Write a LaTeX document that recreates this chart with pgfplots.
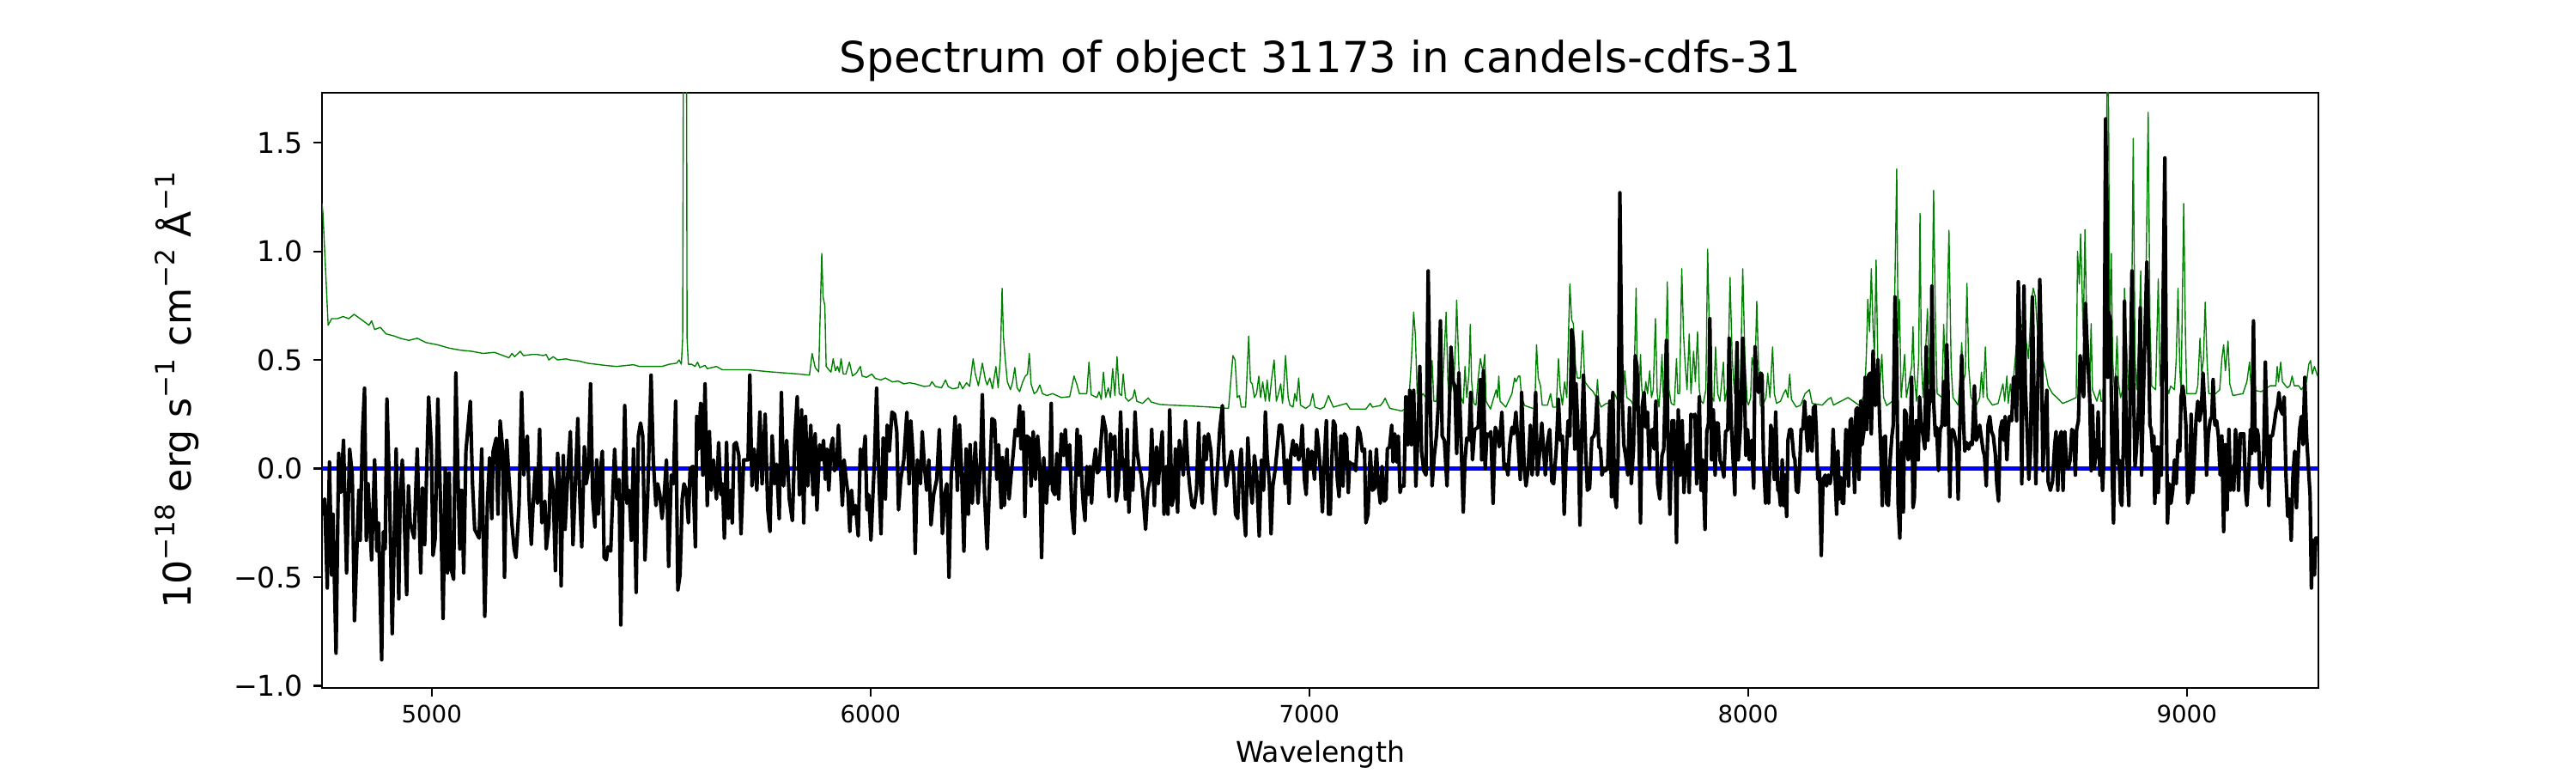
\documentclass[border=0pt]{standalone}
\usepackage{fontspec}
\setmainfont{DejaVu Sans}
\usepackage{pgfplots}
\usepackage{pgfplotstable}
\pgfplotsset{compat=1.18}
\definecolor{mplgreen}{rgb}{0,0.5,0}
\definecolor{mplblue}{rgb}{0,0,1}
\newcommand\sups[1]{\raisebox{0.42em}{\fontsize{11.2}{12}\selectfont #1}}

\pgfplotstableread{
x y
4750 1.22
4752 1.18
4764 0.66
4772 0.69
4785 0.69
4798 0.70
4811 0.69
4823 0.71
4837 0.69
4857 0.66
4863 0.68
4870 0.64
4883 0.65
4896 0.62
4915 0.61
4928 0.60
4948 0.59
4967 0.60
4987 0.58
5013 0.57
5039 0.555
5065 0.545
5091 0.54
5117 0.53
5143 0.535
5163 0.52
5176 0.51
5183 0.53
5189 0.515
5202 0.54
5209 0.52
5228 0.525
5241 0.525
5254 0.52
5261 0.525
5267 0.50
5277 0.515
5287 0.50
5306 0.505
5316 0.50
5336 0.495
5355 0.485
5395 0.475
5421 0.47
5460 0.478
5473 0.47
5525 0.47
5541 0.48
5558 0.485
5564 0.50
5569 0.48
5572 0.6
5575 3.0
5580 3.0
5582 0.6
5585 0.48
5593 0.48
5600 0.47
5606 0.49
5611 0.465
5623 0.475
5628 0.46
5649 0.47
5662 0.455
5721 0.455
5773 0.445
5838 0.435
5861 0.43
5867 0.53
5874 0.465
5882 0.445
5889 0.99
5892 0.79
5896 0.75
5899 0.47
5910 0.444
5915 0.506
5920 0.45
5925 0.47
5929 0.444
5933 0.506
5938 0.435
5944 0.435
5952 0.49
5959 0.426
5968 0.44
5977 0.47
5981 0.426
5991 0.42
6003 0.435
6011 0.415
6024 0.408
6034 0.417
6050 0.399
6063 0.403
6076 0.39
6089 0.395
6102 0.39
6122 0.378
6135 0.381
6140 0.40
6148 0.378
6162 0.372
6171 0.408
6177 0.378
6187 0.367
6200 0.372
6203 0.399
6210 0.367
6219 0.395
6226 0.378
6234 0.506
6239 0.435
6246 0.381
6255 0.485
6262 0.408
6266 0.385
6272 0.417
6278 0.367
6286 0.47
6291 0.372
6296 0.506
6300 0.83
6303 0.61
6307 0.506
6312 0.399
6319 0.363
6324 0.399
6329 0.465
6334 0.372
6340 0.354
6347 0.399
6353 0.426
6358 0.435
6362 0.53
6366 0.39
6373 0.345
6379 0.354
6386 0.385
6392 0.345
6402 0.336
6415 0.345
6435 0.327
6454 0.331
6464 0.426
6470 0.39
6476 0.345
6493 0.345
6498 0.49
6503 0.34
6516 0.327
6521 0.354
6526 0.318
6531 0.444
6536 0.327
6542 0.372
6547 0.327
6552 0.46
6557 0.336
6562 0.515
6567 0.345
6572 0.336
6576 0.435
6581 0.327
6588 0.31
6598 0.327
6602 0.363
6607 0.31
6620 0.30
6633 0.325
6640 0.306
6660 0.295
6686 0.292
6731 0.288
6777 0.283
6816 0.277
6826 0.52
6831 0.50
6836 0.327
6841 0.336
6845 0.283
6855 0.283
6862 0.61
6866 0.40
6870 0.39
6875 0.327
6880 0.345
6885 0.426
6889 0.327
6894 0.399
6900 0.31
6904 0.408
6909 0.31
6914 0.408
6920 0.50
6925 0.31
6930 0.345
6935 0.39
6939 0.30
6941 0.345
6946 0.52
6952 0.327
6956 0.292
6963 0.283
6967 0.345
6971 0.31
6976 0.417
6980 0.292
6992 0.277
7002 0.292
7008 0.345
7013 0.283
7025 0.274
7034 0.283
7044 0.336
7049 0.31
7055 0.283
7085 0.30
7093 0.274
7119 0.274
7129 0.274
7139 0.30
7144 0.283
7162 0.29
7168 0.305
7173 0.324
7178 0.30
7184 0.277
7211 0.265
7218 0.274
7227 0.31
7233 0.506
7238 0.72
7242 0.61
7246 0.345
7253 0.327
7259 0.345
7266 0.327
7272 0.345
7276 0.327
7280 0.497
7284 0.31
7290 0.31
7295 0.444
7302 0.30
7307 0.506
7312 0.72
7316 0.40
7320 0.31
7325 0.40
7329 0.363
7334 0.61
7336 0.775
7341 0.47
7346 0.327
7351 0.30
7355 0.47
7359 0.327
7364 0.435
7367 0.664
7370 0.40
7375 0.30
7380 0.292
7385 0.417
7390 0.506
7396 0.444
7400 0.525
7403 0.31
7413 0.274
7426 0.363
7429 0.327
7432 0.426
7435 0.31
7448 0.283
7462 0.345
7468 0.417
7471 0.399
7477 0.426
7480 0.426
7484 0.327
7491 0.29
7514 0.274
7518 0.57
7522 0.417
7527 0.381
7531 0.292
7543 0.292
7550 0.345
7555 0.283
7563 0.283
7568 0.506
7572 0.363
7577 0.292
7582 0.399
7587 0.327
7594 0.85
7598 0.685
7602 0.667
7607 0.47
7611 0.417
7618 0.417
7623 0.635
7628 0.40
7638 0.372
7647 0.354
7654 0.327
7657 0.41
7660 0.31
7665 0.283
7677 0.30
7690 0.30
7696 0.345
7702 0.318
7716 0.327
7719 0.45
7724 0.327
7734 0.31
7739 0.29
7745 0.83
7748 0.345
7752 0.327
7755 0.525
7758 0.363
7763 0.31
7767 0.40
7771 0.345
7776 0.45
7780 0.327
7784 0.363
7789 0.69
7793 0.345
7797 0.283
7801 0.40
7804 0.525
7807 0.327
7812 0.40
7816 0.86
7820 0.363
7825 0.30
7832 0.292
7837 0.506
7840 0.345
7844 0.345
7849 0.92
7853 0.62
7856 0.506
7861 0.363
7866 0.62
7870 0.345
7876 0.54
7880 0.40
7885 0.63
7889 0.363
7893 0.31
7898 0.30
7904 0.363
7908 1.01
7913 0.525
7918 0.327
7922 0.31
7926 0.56
7931 0.345
7936 0.31
7944 0.49
7947 0.31
7954 0.381
7959 0.88
7964 0.506
7969 0.345
7973 0.58
7977 0.345
7982 0.327
7988 0.92
7993 0.506
7998 0.31
8001 0.292
8006 0.327
8009 0.51
8016 0.45
8020 0.77
8024 0.47
8028 0.292
8032 0.283
8041 0.327
8045 0.44
8050 0.327
8056 0.56
8060 0.345
8065 0.30
8074 0.31
8081 0.345
8086 0.363
8091 0.327
8095 0.435
8099 0.318
8110 0.283
8120 0.292
8130 0.345
8140 0.363
8146 0.30
8169 0.292
8182 0.318
8189 0.327
8195 0.292
8202 0.30
8228 0.327
8254 0.29
8266 0.345
8270 0.54
8273 0.78
8277 0.63
8281 0.92
8285 0.65
8288 0.52
8292 0.96
8296 0.47
8301 0.40
8305 0.525
8309 0.327
8316 0.29
8329 0.31
8332 0.506
8339 1.38
8342 0.60
8345 0.78
8349 0.327
8357 0.525
8361 0.327
8373 0.47
8376 0.653
8379 0.435
8384 0.31
8389 0.506
8392 1.175
8395 0.506
8399 0.327
8404 0.506
8409 0.735
8413 0.39
8418 0.435
8423 1.28
8427 0.685
8431 0.345
8442 0.327
8446 0.664
8451 0.363
8453 0.63
8458 1.097
8463 0.47
8467 0.327
8479 0.292
8483 0.40
8487 0.58
8491 0.40
8495 0.435
8499 0.853
8503 0.47
8508 0.327
8521 0.292
8528 0.327
8532 0.444
8536 0.327
8541 0.56
8545 0.327
8557 0.292
8570 0.30
8581 0.39
8585 0.31
8590 0.426
8593 0.30
8598 0.39
8601 0.327
8606 0.435
8609 0.506
8614 0.61
8619 0.685
8624 0.65
8629 0.685
8633 0.60
8639 0.506
8642 0.61
8645 0.757
8650 0.83
8655 0.79
8658 0.685
8665 0.525
8671 0.506
8678 0.45
8684 0.381
8694 0.345
8704 0.327
8717 0.30
8730 0.31
8748 0.327
8751 1.0
8755 0.85
8758 1.08
8761 0.86
8764 0.61
8768 1.10
8771 0.765
8775 0.525
8779 0.40
8782 0.667
8785 0.363
8795 0.31
8802 0.363
8805 0.31
8811 0.31
8815 0.8
8817 1.22
8819 2.2
8822 1.58
8824 0.61
8828 0.99
8831 0.506
8836 0.327
8841 0.61
8844 0.399
8849 0.327
8854 0.363
8858 0.83
8862 0.61
8867 0.363
8873 0.399
8878 1.52
8882 0.506
8886 0.363
8891 0.61
8895 0.91
8898 0.506
8903 0.40
8907 0.86
8912 1.64
8916 0.685
8920 0.38
8929 0.363
8935 0.873
8939 0.38
8950 0.417
8955 0.38
8959 0.345
8963 0.38
8972 0.363
8976 0.506
8980 0.83
8984 0.47
8987 0.345
8993 1.22
8997 0.61
9000 0.345
9012 0.345
9021 0.345
9025 0.381
9030 0.60
9034 0.435
9038 0.506
9042 0.766
9046 0.506
9050 0.345
9066 0.345
9075 0.363
9080 0.506
9084 0.57
9088 0.45
9094 0.587
9098 0.39
9105 0.336
9128 0.345
9137 0.40
9143 0.49
9147 0.363
9170 0.354
9190 0.381
9203 0.381
9206 0.47
9209 0.399
9214 0.49
9218 0.399
9229 0.372
9235 0.381
9240 0.426
9245 0.381
9255 0.381
9261 0.363
9273 0.399
9278 0.48
9282 0.497
9286 0.435
9291 0.47
9298 0.426
}\noisetab

\pgfplotstableread{
x y
4750 -0.15
4752 -0.21
4756 -0.14
4762 -0.55
4767 0.03
4772 -0.49
4775 -0.21
4782 -0.85
4788 0.07
4793 -0.11
4799 0.13
4806 -0.48
4813 0.09
4819 -0.03
4824 -0.70
4834 -0.10
4837 -0.33
4842 0.15
4847 0.37
4851 -0.33
4855 -0.07
4863 -0.42
4870 0.04
4875 -0.38
4879 -0.25
4886 -0.88
4890 -0.29
4894 -0.37
4898 0.32
4904 -0.11
4910 -0.76
4919 0.09
4925 -0.60
4928 -0.14
4933 0.04
4938 -0.26
4943 -0.58
4947 -0.08
4951 -0.25
4960 -0.32
4967 0.09
4975 -0.48
4979 -0.09
4984 -0.35
4988 -0.05
4993 0.33
4999 0.11
5003 -0.40
5008 -0.32
5014 0.32
5021 -0.23
5026 -0.69
5031 0.00
5036 -0.48
5040 -0.02
5044 -0.46
5050 -0.51
5055 0.44
5060 -0.05
5064 -0.37
5068 -0.10
5073 -0.48
5078 0.08
5088 0.31
5093 -0.07
5098 -0.28
5103 -0.30
5108 -0.32
5114 0.09
5121 -0.68
5127 -0.16
5132 0.05
5137 -0.23
5140 0.08
5147 0.14
5151 -0.21
5156 0.22
5162 0.08
5166 -0.50
5171 0.13
5176 -0.04
5183 -0.26
5188 -0.37
5192 -0.41
5196 -0.28
5199 -0.17
5205 0.35
5210 -0.03
5214 0.10
5218 0.15
5222 -0.14
5227 -0.35
5231 -0.17
5236 0.00
5241 -0.16
5246 0.18
5251 -0.25
5258 -0.15
5261 -0.37
5267 -0.26
5271 0.00
5277 -0.10
5282 -0.47
5287 0.07
5292 -0.10
5295 -0.54
5300 0.06
5304 -0.28
5310 -0.03
5316 0.17
5322 -0.35
5333 0.23
5337 -0.10
5342 -0.36
5348 0.10
5352 -0.07
5357 -0.01
5362 0.39
5367 -0.14
5372 -0.27
5376 0.04
5380 -0.21
5385 0.00
5389 0.08
5393 -0.41
5398 -0.42
5402 -0.36
5408 -0.38
5413 -0.10
5417 0.09
5422 -0.14
5427 -0.05
5431 -0.72
5436 -0.12
5440 0.29
5445 -0.16
5450 -0.10
5455 -0.33
5460 0.09
5466 -0.57
5471 0.15
5476 0.21
5481 0.15
5486 -0.42
5492 -0.14
5500 0.43
5505 0.04
5511 -0.17
5515 -0.07
5520 -0.12
5525 -0.23
5530 -0.12
5535 0.04
5540 -0.45
5546 -0.03
5551 -0.07
5556 0.31
5561 -0.56
5566 -0.49
5571 -0.14
5575 -0.07
5580 -0.10
5585 -0.25
5589 0.00
5595 0.01
5601 -0.36
5604 0.24
5608 0.09
5613 0.30
5618 -0.03
5623 0.39
5628 -0.17
5633 0.17
5637 -0.10
5642 0.04
5649 -0.14
5654 0.12
5659 -0.12
5663 -0.07
5667 -0.32
5672 0.12
5676 -0.23
5681 -0.10
5685 -0.25
5689 0.11
5694 0.12
5700 0.06
5705 -0.30
5711 0.04
5715 0.04
5721 0.04
5725 0.43
5730 -0.08
5735 0.09
5741 -0.10
5748 0.26
5753 -0.07
5760 0.25
5766 -0.19
5771 -0.29
5776 0.15
5781 -0.07
5786 0.02
5792 -0.23
5797 0.35
5802 -0.08
5809 0.13
5815 -0.14
5822 -0.24
5828 0.15
5833 0.33
5838 -0.12
5843 0.27
5848 -0.25
5852 0.24
5857 -0.08
5864 0.20
5869 -0.12
5874 0.16
5878 -0.19
5884 0.11
5889 0.04
5893 0.13
5897 -0.05
5901 0.09
5905 -0.10
5910 0.10
5914 0.14
5918 -0.01
5923 0.01
5927 0.20
5933 -0.05
5936 -0.17
5940 0.04
5944 -0.04
5949 -0.12
5953 -0.29
5957 -0.10
5961 -0.21
5966 -0.17
5972 -0.31
5977 0.09
5981 0.00
5988 0.15
5992 -0.19
5996 -0.12
6001 -0.33
6006 -0.10
6009 0.03
6014 0.37
6019 -0.03
6024 -0.30
6029 0.14
6034 -0.14
6038 0.20
6043 0.08
6049 0.26
6055 0.25
6060 0.17
6064 -0.19
6069 -0.05
6076 0.04
6083 0.26
6088 -0.07
6092 0.22
6097 0.06
6102 -0.39
6107 0.04
6114 -0.07
6118 0.17
6123 0.01
6128 -0.10
6133 0.04
6138 -0.26
6144 -0.12
6151 -0.05
6157 0.18
6164 -0.30
6169 -0.12
6174 -0.07
6179 -0.50
6184 -0.03
6188 0.06
6193 0.24
6198 -0.10
6203 0.20
6208 -0.03
6213 -0.38
6218 0.09
6223 -0.21
6227 0.11
6232 -0.16
6239 0.12
6245 -0.16
6251 0.04
6255 0.34
6260 -0.12
6266 -0.37
6272 -0.03
6277 0.23
6283 0.22
6288 -0.05
6292 0.11
6298 -0.18
6301 0.05
6305 -0.17
6311 0.09
6316 -0.14
6320 -0.04
6325 0.06
6330 0.18
6335 0.15
6340 0.29
6343 0.09
6348 0.26
6352 -0.22
6356 0.15
6362 0.14
6366 -0.08
6371 0.17
6376 -0.05
6381 0.15
6386 0.01
6390 -0.41
6395 0.05
6401 -0.16
6405 -0.01
6408 -0.07
6412 0.30
6415 -0.10
6420 -0.12
6425 0.07
6429 -0.14
6435 0.16
6440 0.06
6444 0.18
6449 0.01
6454 0.11
6459 -0.19
6464 -0.30
6471 0.18
6474 -0.03
6478 0.15
6482 -0.07
6485 -0.16
6489 -0.24
6493 0.01
6497 -0.12
6500 0.01
6504 -0.16
6508 0.01
6513 0.09
6517 -0.02
6521 -0.01
6526 0.14
6530 0.24
6536 0.18
6539 0.04
6544 -0.13
6547 0.16
6552 0.09
6557 0.15
6560 -0.15
6565 -0.08
6570 0.26
6574 0.01
6578 0.04
6581 -0.14
6585 0.18
6589 -0.20
6593 0.00
6598 -0.10
6603 0.26
6607 0.09
6613 0.00
6617 -0.03
6622 -0.14
6627 -0.28
6632 -0.10
6637 -0.05
6641 0.18
6647 -0.17
6652 0.10
6656 -0.07
6661 0.08
6665 0.17
6669 -0.21
6674 0.01
6678 -0.21
6682 0.27
6687 -0.17
6692 -0.12
6695 0.09
6700 -0.20
6704 0.13
6708 0.08
6713 -0.03
6718 0.22
6723 0.02
6728 -0.09
6733 -0.17
6738 -0.18
6743 -0.10
6748 0.21
6752 -0.07
6756 -0.16
6761 0.15
6765 0.04
6770 0.16
6776 0.08
6780 -0.10
6785 -0.21
6790 -0.03
6796 0.18
6802 0.29
6806 0.04
6811 -0.08
6816 0.00
6823 0.08
6828 -0.03
6832 -0.21
6837 -0.23
6841 0.01
6845 0.09
6850 -0.17
6855 -0.31
6860 0.14
6865 -0.06
6870 -0.16
6875 0.06
6880 -0.03
6886 -0.31
6891 0.04
6896 -0.10
6900 0.26
6904 0.06
6909 -0.06
6913 -0.30
6917 -0.08
6922 -0.01
6927 0.09
6932 0.20
6937 0.20
6941 0.11
6945 -0.07
6950 0.04
6954 -0.16
6958 0.06
6963 0.13
6967 0.06
6971 0.11
6976 0.04
6980 0.07
6984 0.20
6989 -0.05
6993 -0.12
6997 0.09
7002 0.00
7006 0.08
7012 -0.05
7017 0.18
7021 0.11
7026 -0.03
7030 -0.20
7034 0.02
7039 0.22
7044 -0.21
7048 -0.21
7051 0.01
7055 0.22
7059 0.20
7064 -0.05
7068 -0.13
7072 0.15
7077 -0.08
7080 0.16
7085 0.14
7089 -0.11
7092 0.03
7096 0.02
7101 0.02
7106 -0.01
7111 0.19
7116 0.16
7121 0.08
7126 0.09
7129 -0.25
7134 -0.21
7139 0.08
7144 -0.10
7149 -0.09
7153 0.09
7157 -0.07
7162 -0.16
7166 0.01
7171 -0.15
7175 -0.14
7178 0.09
7183 0.10
7188 0.20
7191 0.03
7195 0.16
7199 0.03
7203 0.15
7207 -0.11
7210 -0.08
7216 -0.08
7220 0.33
7225 0.11
7229 0.36
7233 0.11
7238 0.36
7243 -0.08
7248 0.18
7252 0.47
7256 0.08
7261 -0.01
7266 -0.03
7271 0.91
7276 0.29
7280 -0.08
7285 0.06
7290 0.15
7294 0.29
7299 0.68
7303 0.15
7308 0.13
7314 -0.08
7318 0.18
7323 0.56
7328 0.40
7332 0.38
7336 0.07
7341 0.44
7346 0.13
7351 -0.20
7355 0.04
7359 0.14
7364 0.13
7368 0.35
7372 0.04
7377 0.18
7385 0.19
7390 0.41
7393 0.04
7397 0.45
7401 0.00
7405 0.16
7409 0.15
7414 0.17
7419 -0.16
7424 0.19
7429 0.16
7433 0.10
7439 0.26
7444 0.00
7448 0.02
7453 -0.03
7457 0.11
7462 0.19
7466 0.16
7471 0.26
7477 0.08
7481 -0.05
7484 0.35
7490 0.00
7494 -0.08
7499 0.00
7504 0.20
7508 -0.03
7512 0.14
7516 0.35
7520 -0.03
7525 0.07
7530 0.21
7534 0.09
7538 -0.03
7543 0.12
7548 0.18
7553 -0.06
7557 -0.07
7563 0.09
7568 0.32
7572 0.13
7577 0.15
7581 -0.21
7585 0.03
7590 0.22
7594 0.15
7598 0.64
7602 0.58
7605 0.09
7608 0.39
7613 0.15
7617 -0.26
7621 0.15
7625 0.43
7630 0.08
7634 -0.10
7639 -0.09
7644 0.14
7649 0.15
7652 0.18
7656 0.33
7660 0.10
7664 0.09
7667 -0.03
7672 0.00
7675 -0.01
7680 0.00
7685 0.31
7689 -0.13
7692 0.35
7696 -0.12
7700 -0.18
7704 0.06
7708 1.27
7713 0.33
7717 0.11
7721 0.06
7726 -0.03
7730 0.28
7734 -0.07
7739 0.09
7743 0.52
7747 0.47
7752 0.09
7755 -0.25
7759 0.29
7763 0.35
7767 0.19
7771 0.26
7775 0.00
7778 0.17
7782 0.18
7786 0.09
7790 0.31
7794 -0.07
7799 -0.14
7804 0.06
7808 0.09
7814 0.59
7818 0.09
7822 -0.21
7827 0.22
7831 0.22
7835 -0.04
7837 -0.34
7841 0.27
7845 -0.03
7850 0.22
7854 -0.11
7858 0.04
7862 0.11
7866 -0.11
7870 0.25
7874 0.24
7879 0.25
7883 -0.07
7885 0.03
7889 0.33
7893 -0.10
7897 0.04
7902 -0.28
7906 0.17
7910 0.21
7913 0.69
7917 0.04
7921 0.27
7925 -0.03
7928 0.21
7932 0.21
7936 0.04
7941 0.01
7945 -0.04
7949 0.17
7954 0.18
7957 0.60
7962 0.20
7966 0.04
7970 -0.12
7975 0.58
7978 0.04
7983 0.20
7988 0.60
7992 0.38
7995 0.06
7999 0.18
8003 0.04
8008 0.13
8013 -0.09
8016 0.56
8020 0.40
8024 0.35
8029 0.44
8032 0.43
8035 0.06
8040 -0.16
8043 -0.01
8047 -0.16
8052 0.20
8056 0.15
8060 -0.05
8063 0.26
8068 -0.10
8071 -0.10
8074 -0.17
8078 0.04
8081 -0.17
8084 -0.03
8088 -0.22
8091 0.13
8095 0.18
8099 0.18
8104 0.06
8107 0.04
8110 -0.10
8114 -0.11
8118 0.02
8121 0.18
8125 0.18
8129 0.31
8133 0.17
8136 0.08
8140 0.24
8143 0.11
8146 0.08
8149 0.28
8153 0.29
8156 0.15
8159 -0.05
8163 -0.01
8167 -0.40
8171 -0.05
8176 -0.03
8179 -0.08
8183 -0.03
8187 -0.07
8191 -0.01
8194 0.18
8202 -0.21
8205 0.08
8208 -0.14
8211 -0.04
8215 -0.16
8218 -0.16
8223 0.18
8226 0.17
8229 -0.08
8233 0.22
8236 0.23
8240 0.07
8243 -0.11
8246 0.27
8249 0.28
8253 -0.05
8257 0.31
8260 0.11
8264 0.17
8267 0.42
8271 0.18
8275 0.43
8279 0.44
8281 0.16
8285 0.54
8290 0.29
8293 0.32
8296 0.50
8300 0.22
8303 0.06
8306 -0.17
8309 0.14
8313 0.15
8316 -0.16
8320 -0.17
8324 0.04
8328 0.15
8331 0.20
8335 0.79
8339 0.52
8342 -0.16
8346 -0.32
8350 0.12
8354 -0.20
8357 0.27
8361 0.25
8365 0.04
8369 0.06
8373 0.42
8376 -0.18
8379 -0.14
8383 0.22
8388 0.04
8391 0.33
8395 0.20
8399 0.15
8403 0.09
8406 0.56
8410 0.13
8414 0.36
8417 0.31
8419 0.84
8423 0.31
8427 0.15
8430 0.19
8434 -0.01
8438 0.18
8442 0.20
8446 0.40
8449 0.20
8453 0.57
8456 0.35
8460 -0.13
8463 0.15
8466 0.18
8469 0.17
8472 0.14
8476 0.09
8479 -0.14
8482 0.15
8487 0.52
8491 0.22
8494 0.08
8498 0.12
8503 0.09
8507 0.12
8511 0.11
8516 0.38
8520 0.13
8524 0.15
8528 0.20
8532 0.14
8536 0.08
8539 0.06
8543 -0.08
8547 0.20
8551 0.24
8555 0.17
8559 0.15
8564 0.06
8567 -0.07
8571 -0.15
8575 0.18
8579 0.22
8583 0.13
8586 0.24
8590 0.04
8593 0.18
8596 0.24
8601 0.22
8605 0.42
8609 0.42
8612 0.22
8616 0.86
8621 0.51
8624 -0.07
8629 0.84
8632 0.38
8636 0.18
8640 -0.05
8644 0.09
8648 0.79
8652 0.33
8656 -0.07
8660 0.33
8665 0.87
8669 0.51
8672 -0.01
8676 0.18
8681 0.36
8684 -0.06
8689 -0.10
8694 -0.06
8699 0.11
8702 0.17
8706 -0.10
8710 0.14
8714 0.17
8718 -0.10
8722 0.17
8726 0.02
8730 0.00
8734 0.04
8738 0.18
8742 0.17
8746 -0.03
8749 0.18
8753 0.22
8757 0.52
8761 0.38
8765 0.33
8769 0.76
8772 0.61
8779 0.31
8782 -0.01
8785 0.29
8789 0.00
8792 0.05
8795 0.06
8798 0.26
8802 -0.03
8805 0.09
8808 -0.10
8811 0.04
8815 1.61
8818 1.22
8820 0.42
8822 0.72
8826 0.68
8830 -0.03
8833 -0.25
8836 0.15
8839 0.42
8843 0.02
8846 0.04
8849 -0.15
8852 -0.17
8856 0.15
8858 0.77
8862 0.15
8865 -0.03
8868 -0.17
8871 0.36
8875 0.91
8879 0.33
8882 0.01
8885 0.08
8890 0.27
8894 0.74
8897 -0.03
8901 0.33
8906 0.72
8909 0.95
8912 0.68
8916 0.20
8919 0.18
8922 0.08
8925 0.15
8927 -0.16
8930 -0.03
8933 0.10
8935 -0.11
8939 0.10
8942 -0.03
8945 0.60
8950 1.43
8954 0.15
8956 -0.25
8960 -0.07
8964 -0.16
8968 -0.10
8972 0.04
8976 -0.07
8980 0.13
8984 0.08
8987 0.33
8991 0.38
8994 0.33
8998 0.20
9002 -0.16
9006 -0.12
9010 0.25
9014 -0.11
9017 0.04
9021 0.22
9025 0.31
9029 0.22
9033 0.27
9037 0.44
9041 0.27
9045 -0.03
9049 0.15
9053 0.22
9057 0.24
9060 0.41
9064 0.20
9068 0.22
9072 0.15
9076 -0.03
9080 0.15
9084 -0.29
9088 0.11
9092 -0.19
9096 0.18
9100 -0.10
9104 0.01
9107 -0.10
9111 0.18
9115 0.09
9118 -0.10
9122 0.16
9126 0.16
9130 0.16
9134 -0.10
9137 -0.17
9141 -0.03
9145 0.18
9148 0.07
9152 0.68
9156 0.08
9160 0.18
9163 0.15
9167 -0.07
9171 -0.09
9175 0.04
9179 0.49
9183 0.15
9187 -0.17
9191 0.15
9195 0.15
9199 0.20
9203 0.26
9207 0.29
9210 0.35
9214 0.27
9218 0.25
9222 0.33
9226 -0.03
9230 -0.22
9234 -0.14
9238 -0.33
9242 -0.03
9246 0.08
9250 -0.18
9254 0.06
9257 0.18
9261 0.24
9265 0.11
9269 0.42
9273 0.15
9277 0.01
9281 -0.12
9284 -0.55
9287 -0.33
9291 -0.49
9294 -0.32
9300 -0.32
}\fluxtab

\begin{document}
\begin{tikzpicture}
\useasboundingbox (0,0) rectangle (15in,4.5in);
\begin{axis}[
  at={(1.875in,0.495in)}, anchor=south west,
  width=11.625in, height=3.465in, scale only axis,
  xmin=4750, xmax=9300, ymin=-1.01, ymax=1.73,
  axis line style={line width=0.8pt},
  tick align=outside, tick pos=left,
  major tick length=3.5pt,
  every tick/.style={black, line width=0.8pt},
  xtick={5000,6000,7000,8000,9000},
  xticklabels={5000,6000,7000,8000,9000},
  ytick={-1,-0.5,0,0.5,1,1.5},
  yticklabels={−1.0,−0.5,0.0,0.5,1.0,1.5},
  xticklabel style={font=\fontsize{10}{12}\selectfont},
  yticklabel style={font=\fontsize{12}{14}\selectfont, xshift=-1pt},
]
\addplot[mplgreen, line width=0.5pt, line join=round] table[x=x,y=y] {\noisetab};
\addplot[mplblue, line width=2pt] coordinates {(4750,0) (9300,0)};
\addplot[black, line width=1.5pt, line join=round] table[x=x,y=y] {\fluxtab};
\end{axis}
\node[font=\fontsize{18}{21}\selectfont, anchor=base] at (7.6875in,4.075in) {Spectrum of object 31173 in candels-cdfs-31};
\node[font=\fontsize{12}{14}\selectfont, anchor=base] at (7.6875in,0.065in) {Wavelength};
\node[font=\fontsize{16}{19}\selectfont, rotate=90, anchor=center] at (1.03in,2.2275in) {10\sups{−18} erg s\sups{−1} cm\sups{−2} Å\sups{−1}};
\end{tikzpicture}
\end{document}
